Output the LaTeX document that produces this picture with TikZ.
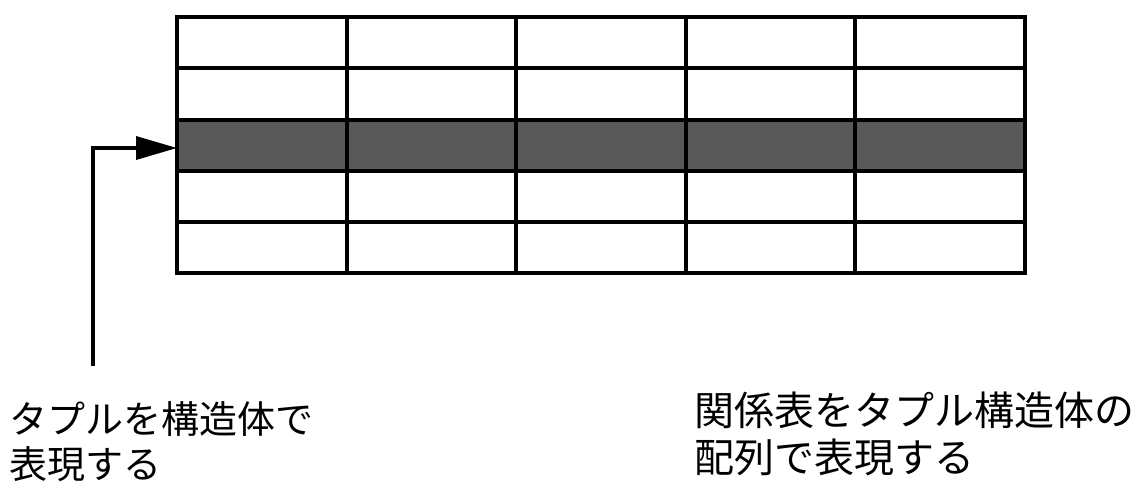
\documentclass[tikz,border=0pt]{standalone}
\usepackage{fontspec}
\newfontfamily\cjk{Noto Sans CJK JP}
\usetikzlibrary{arrows.meta}
\begin{document}
\begin{tikzpicture}[x=1pt,y=-1pt,
  gridline/.style={line width=3.5pt, line cap=rect},
  shaded/.style={fill=black!65, draw=none},
  label/.style={font=\cjk, align=left, inner sep=0pt, anchor=north west},
  arrowline/.style={line width=3.5pt, -{Triangle[length=41pt,width=23pt]}}]
\useasboundingbox (0,0) rectangle (1148,488);
% shaded row
\fill[shaded] (177,120) rectangle (1025,171);
% horizontal lines
\foreach \y in {17,68,120,171,222,273}
  \draw[gridline] (177,\y) -- (1025,\y);
% vertical lines
\foreach \x in {177,347,516,686,855,1025}
  \draw[gridline] (\x,17) -- (\x,273);
\coordinate (rowtarget) at (177,148);
\coordinate (start) at (93,366);
\draw[arrowline] (start) |- (rowtarget);
\node[label, font=\cjk\fontsize{38pt}{45pt}\selectfont] (left) at (9,401) {タプルを構造体で\\表現する};
\node[label, font=\cjk\fontsize{40pt}{47pt}\selectfont] (right) at (694,392) {関係表をタプル構造体の\\配列で表現する};
\end{tikzpicture}
\end{document}
